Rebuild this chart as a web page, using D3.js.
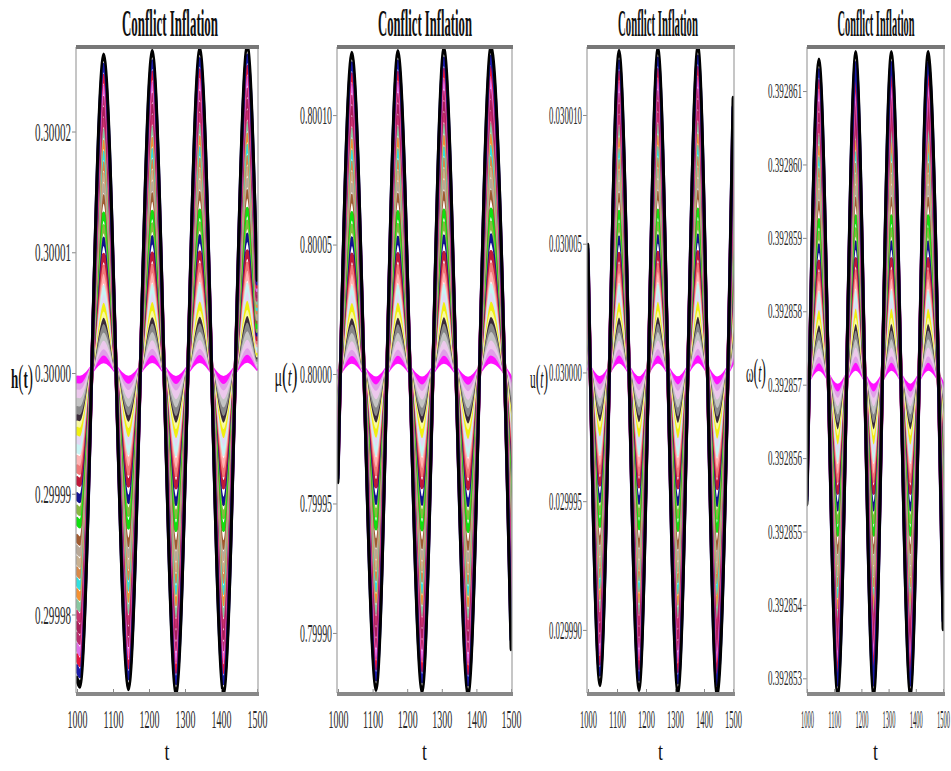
<!DOCTYPE html>
<html>
<head>
<meta charset="utf-8">
<script src="https://cdn.jsdelivr.net/npm/d3@7"></script>
<style>
  body { margin: 0; background: #fff; }
  text { font-family: "Liberation Serif", "Times New Roman", serif; }
</style>
</head>
<body>
<div id="chart"></div>
<script>
// --------------------------------------
//  Data
// --------------------------------------

const tTicks = [1000, 1100, 1200, 1300, 1400, 1500];

// outermost (black) curve at t=1000, every extremum, t=1500
const hTimes = [1000, 1008, 1074, 1143, 1209, 1275, 1341, 1407, 1473, 1500];
const hOuter = [0.2999746, 0.2999742, 0.3000262, 0.2999740, 0.3000265, 0.2999736, 0.3000267, 0.2999736, 0.3000270, 0.3000079];
const hCenter = 0.3000003;
const hTicks = [0.29998, 0.29999, 0.30000, 0.30001, 0.30002];

const muTimes = [1000, 1040, 1110, 1173, 1243, 1306, 1376, 1442, 1500];
const muOuter = [0.7999591, 0.8001232, 0.7998788, 0.8001239, 0.7998780, 0.8001251, 0.7998768, 0.8001259, 0.7998946];
const muCenter = 0.8000015;
const muTicks = [0.79990, 0.79995, 0.80000, 0.80005, 0.80010];

const uTimes = [1000, 1041, 1107, 1176, 1241, 1310, 1379, 1445, 1500];
const uOuter = [0.03000487, 0.02998794, 0.03001241, 0.02998775, 0.03001252, 0.02998763, 0.03001260, 0.02998755, 0.03001058];
const uCenter = 0.0300001;
const uTicks = [0.029990, 0.029995, 0.030000, 0.030005, 0.030010];

const wTimes = [1000, 1044, 1113, 1179, 1245, 1310, 1380, 1445, 1500];
const wOuter = [0.3928554, 0.3928614, 0.3928528, 0.3928615, 0.3928528, 0.3928615, 0.3928528, 0.3928615, 0.3928537];
const wCenter = 0.3928571;
const wTicks = [0.392853, 0.392854, 0.392855, 0.392856, 0.392857, 0.392858, 0.392859, 0.392860, 0.392861];

// each curve's swing relative to the black one, outermost first
const seriesRatio = [1.000, 0.965, 0.930, 0.895, 0.860, 0.825, 0.790, 0.755, 0.720, 0.685,
                     0.650, 0.615, 0.580, 0.545, 0.490, 0.450, 0.410, 0.358, 0.320, 0.290,
                     0.255, 0.228, 0.200, 0.180, 0.160, 0.133, 0.107, 0.080, 0.060, 0.035];
const seriesColor = ["#000000", "#1a1aa8", "#e8143c", "#e070e8", "#b82a6a", "#a81e58", "#c8326e", "#88c8a0", "#f59030", "#30e0e0",
                     "#d88848", "#c8b090", "#b8a898", "#a05a30", "#10e010", "#88b840", "#101090", "#c01838", "#f07878", "#ffb4b4",
                     "#c8f4f4", "#e4d8f4", "#f0f010", "#f8f8a0", "#3a2a3a", "#888888", "#c4c4c4", "#ecc8ec", "#e0a0e8", "#ff10ff"];

// --------------------------------------
//  Canvas
// --------------------------------------

const width = 951;
const height = 771;
const top_ = 47;
const bottom = 693;
const squash = 0.35;   // curves are drawn wide, then squeezed sideways

const svg = d3.select("#chart")
  .append("svg")
    .attr("width", width)
    .attr("height", height);

const panels = [
  {id: "h", times: hTimes, outer: hOuter, center: hCenter, ticks: hTicks, fmt: ".5f",
   yDomain: [0.2999735, 0.3000270], left: 76, right: 258, x0: 77, x1: 257,
   titleX: 170, titleW: 96, yTickFont: 26, yTickW: 36, xTickW: 20,
   label: ["h", "t"], bold: true, labelX: 22, labelY: 388, labelW: 22},
  {id: "mu", times: muTimes, outer: muOuter, center: muCenter, ticks: muTicks, fmt: ".5f",
   yDomain: [0.7998768, 0.8001263], left: 337, right: 512, x0: 338, x1: 511,
   titleX: 425, titleW: 94, yTickFont: 25, yTickW: 32, xTickW: 20,
   label: ["\u03bc", "t"], bold: false, labelX: 286, labelY: 386, labelW: 23},
  {id: "u", times: uTimes, outer: uOuter, center: uCenter, ticks: uTicks, fmt: ".6f",
   yDomain: [0.02998755, 0.03001264], left: 587, right: 734, x0: 588, x1: 733,
   titleX: 658, titleW: 80, yTickFont: 25, yTickW: 33, xTickW: 17,
   label: ["u", "t"], bold: false, labelX: 539, labelY: 388, labelW: 18},
  {id: "w", times: wTimes, outer: wOuter, center: wCenter, ticks: wTicks, fmt: ".6f",
   yDomain: [0.3928528, 0.3928616], left: 807, right: 944, x0: 807, x1: 943,
   titleX: 876, titleW: 77, yTickFont: 20, yTickW: 34, xTickW: 13,
   label: ["\u03c9", "t"], bold: false, labelX: 756, labelY: 382, labelW: 20}
];

// squeeze a text horizontally so it spans the given width
function fitText(sel, x, y, w) {
  const len = sel.node().getComputedTextLength();
  sel.attr("transform", `translate(${x}, ${y}) scale(${w / len}, 1)`);
}

panels.forEach(p => {

  const g = svg.append("g").attr("class", "panel-" + p.id);

  // --------------------------------------
  //  Scales
  // --------------------------------------

  const x = d3.scaleLinear().domain([1000, 1500]).range([p.x0, p.x1]);
  const xWide = d3.scaleLinear().domain([1000, 1500]).range([p.x0 / squash, p.x1 / squash]);
  const y = d3.scaleLinear().domain(p.yDomain).range([bottom, top_]);

  // --------------------------------------
  //  Curves
  // --------------------------------------

  const clipId = "clip-" + p.id;
  g.append("clipPath").attr("id", clipId)
    .append("rect")
      .attr("x", p.left)
      .attr("y", top_ - 2)
      .attr("width", p.right - p.left)
      .attr("height", bottom - top_ + 4);

  const series = seriesRatio.map((r, i) => ({
    color: seriesColor[i],
    outerMost: i === 0,
    pts: p.times.map((t, j) => ({t: t, v: p.center + r * (p.outer[j] - p.center)}))
  })).reverse();

  const line = d3.line()
    .x(d => xWide(d.t))
    .y(d => y(d.v))
    .curve(d3.curveMonotoneX);

  g.append("g")
    .attr("clip-path", `url(#${clipId})`)
    .append("g")
    .attr("transform", `scale(${squash}, 1)`)
    .selectAll("path")
    .data(series)
    .join("path")
      .attr("d", d => line(d.pts))
      .attr("fill", "none")
      .attr("stroke", d => d.color)
      .attr("stroke-width", d => d.outerMost ? 8.5 : 9.5)
      .attr("stroke-linejoin", "round")
      .attr("stroke-linecap", "round");

  // --------------------------------------
  //  Axes
  // --------------------------------------

  const yAxis = g.append("g")
    .attr("transform", `translate(${p.left}, 0)`)
    .call(d3.axisLeft(y)
      .tickValues(p.ticks)
      .tickSize(4)
      .tickFormat(d3.format(p.fmt)));
  yAxis.select(".domain").remove();
  yAxis.selectAll(".tick line").attr("stroke", "#888");
  yAxis.selectAll(".tick text")
    .attr("font-size", p.yTickFont)
    .attr("fill", "#2a2a2a")
    .attr("x", null)
    .attr("dy", "0.33em")
    .each(function() {
      const len = this.getComputedTextLength();
      d3.select(this).attr("transform", `translate(-5, 0) scale(${p.yTickW / len}, 1)`);
    });

  const xAxis = g.append("g")
    .attr("transform", `translate(0, ${bottom})`)
    .call(d3.axisBottom(x)
      .tickValues(tTicks)
      .tickSize(-4)
      .tickFormat(d3.format("d")));
  xAxis.select(".domain").remove();
  xAxis.selectAll(".tick line").attr("stroke", "#888");
  xAxis.selectAll(".tick text")
    .attr("font-size", 25)
    .attr("fill", "#2a2a2a")
    .attr("y", 35)
    .attr("dy", null)
    .each(function() {
      const len = this.getComputedTextLength();
      d3.select(this).attr("transform", `scale(${p.xTickW / len}, 1)`);
    });

  // frame: thick top and bottom, thin sides
  g.append("line")
    .attr("x1", p.left).attr("x2", p.left).attr("y1", top_).attr("y2", bottom)
    .attr("stroke", "#a0a0a0").attr("stroke-width", 1.2);
  g.append("line")
    .attr("x1", p.right).attr("x2", p.right).attr("y1", top_).attr("y2", bottom)
    .attr("stroke", "#a0a0a0").attr("stroke-width", 1.2);
  g.append("line")
    .attr("x1", p.left).attr("x2", p.right + 1).attr("y1", top_).attr("y2", top_)
    .attr("stroke", "#777").attr("stroke-width", 4);
  g.append("line")
    .attr("x1", p.left).attr("x2", p.right + 1).attr("y1", bottom + 1).attr("y2", bottom + 1)
    .attr("stroke", "#888").attr("stroke-width", 4);

  // --------------------------------------
  //  Labels
  // --------------------------------------

  g.append("text")
    .attr("text-anchor", "middle")
    .attr("font-size", 38)
    .attr("font-weight", "bold")
    .attr("fill", "#111")
    .text("Conflict Inflation")
    .call(fitText, p.titleX, 36, p.titleW);

  const lab = g.append("text")
    .attr("text-anchor", "middle")
    .attr("font-size", 28)
    .attr("fill", "#111")
    .attr("font-weight", p.bold ? "bold" : "normal");
  lab.append("tspan").text(p.label[0]);
  lab.append("tspan").attr("font-size", 34).attr("font-weight", "normal").text("(");
  lab.append("tspan").attr("font-style", p.bold ? "normal" : "italic").text(p.label[1]);
  lab.append("tspan").attr("font-size", 34).attr("font-weight", "normal").text(")");
  lab.call(fitText, p.labelX, p.labelY, p.labelW);

  g.append("text")
    .attr("text-anchor", "middle")
    .attr("font-size", 26)
    .attr("fill", "#111")
    .text("t")
    .call(fitText, (p.left + p.right) / 2, 760, 5);
});
</script>
</body>
</html>
